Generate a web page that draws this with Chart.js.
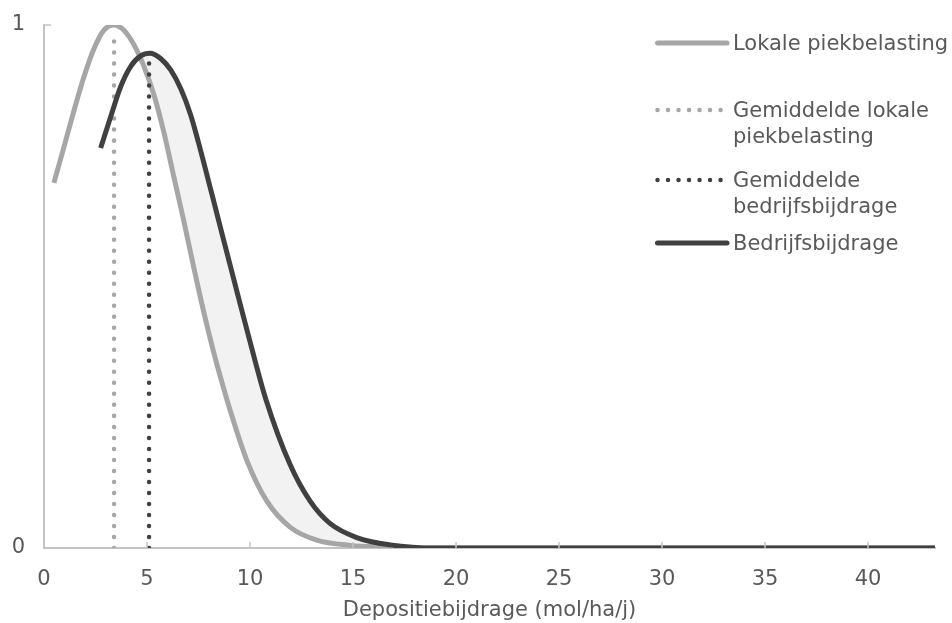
<!DOCTYPE html>
<html>
<head>
<meta charset="utf-8">
<script src="https://cdn.jsdelivr.net/npm/chart.js@4"></script>
<style>
  html, body { margin: 0; padding: 0; background: #fff; }
  #wrap { position: relative; width: 952px; height: 623px; }
  #legend { position: absolute; left: 655px; top: 0; font-family: "DejaVu Sans", Verdana, sans-serif; font-size: 21px; color: #595959; }
  .item { position: absolute; left: 0; white-space: nowrap; }
  .item svg { position: absolute; left: 0; }
  .item span { position: absolute; left: 78px; line-height: 26px; }
</style>
</head>
<body>
<div id="wrap">
  <canvas id="myChart" width="952" height="623"></canvas>
  <div id="legend"></div>
</div>
<script>
// curve points
var xLokaal = [0.48, 0.97, 1.46, 1.94, 2.43, 2.91, 3.4, 3.88, 4.37, 4.85, 5.34, 5.83, 6.3, 6.76, 7.25, 7.75, 8.2, 8.6, 9.03, 9.84, 10.81, 11.94, 13.24, 14.85, 16.5, 19, 43.25];
var yLokaal = [0.698, 0.767, 0.837, 0.901, 0.955, 0.99, 1, 0.99, 0.962, 0.921, 0.866, 0.793, 0.71, 0.63, 0.54, 0.452, 0.38, 0.322, 0.264, 0.168, 0.09, 0.04, 0.015, 0.005, 0.002, 0, 0];

var xBedrijf = [2.75, 3.24, 3.72, 4.21, 4.69, 5.15, 5.66, 6.15, 6.64, 7.12, 7.5, 8.16, 8.79, 9.42, 10.07, 10.78, 11.94, 12.91, 13.88, 15.18, 16.8, 19, 43.25];
var yBedrijf = [0.765, 0.825, 0.882, 0.921, 0.941, 0.946, 0.936, 0.914, 0.878, 0.828, 0.775, 0.675, 0.578, 0.482, 0.384, 0.283, 0.16, 0.09, 0.047, 0.02, 0.006, 0, 0];

// vertical dotted lines (mean values)
var gemiddeldeX = [3.4, 5.1];
var gemiddeldeTop = [0.98, 0.94];

var labels = ["Lokale piekbelasting", "Gemiddelde lokale piekbelasting", "Gemiddelde bedrijfsbijdrage", "Bedrijfsbijdrage"];
var xTicks = [0, 5, 10, 15, 20, 25, 30, 35, 40];
var yTicks = [0, 1];

var licht = "#a6a6a6";
var donker = "#404040";
var asKleur = "#c4c4c4";
var tekst = "#595959";

function pts(xs, ys) {
  return xs.map(function (x, i) { return { x: x, y: ys[i] }; });
}

// small tick marks pointing into the plot
var innerTicks = {
  id: "innerTicks",
  afterDraw: function (chart) {
    var ctx = chart.ctx, xs = chart.scales.x, ys = chart.scales.y;
    var y0 = ys.getPixelForValue(0), x0 = xs.getPixelForValue(0);
    ctx.save();
    ctx.strokeStyle = asKleur;
    ctx.lineWidth = 1.5;
    ctx.beginPath();
    xTicks.forEach(function (v) {
      if (v === 0) return;
      var px = xs.getPixelForValue(v);
      ctx.moveTo(px, y0); ctx.lineTo(px, y0 - 6);
    });
    yTicks.forEach(function (v) {
      if (v === 0) return;
      var py = ys.getPixelForValue(v);
      ctx.moveTo(x0, py); ctx.lineTo(x0 + 7, py);
    });
    ctx.stroke();
    ctx.restore();
  }
};

Chart.defaults.font.family = '"DejaVu Sans", Verdana, sans-serif';
Chart.defaults.font.size = 21;
Chart.defaults.color = tekst;

new Chart("myChart", {
  type: "line",
  data: {
    datasets: [
      {
        label: labels[0],
        data: pts(xLokaal, yLokaal),
        borderColor: licht,
        borderWidth: 5,
        pointRadius: 0,
        fill: false,
        cubicInterpolationMode: "monotone",
        order: 4
      },
      {
        label: labels[1],
        data: [{ x: gemiddeldeX[0], y: 0 }, { x: gemiddeldeX[0], y: gemiddeldeTop[0] }],
        borderColor: licht,
        borderWidth: 4.5,
        borderDash: [0.01, 11],
        borderCapStyle: "round",
        pointRadius: 0,
        fill: false,
        order: 3
      },
      {
        label: labels[2],
        data: [{ x: gemiddeldeX[1], y: 0 }, { x: gemiddeldeX[1], y: gemiddeldeTop[1] }],
        borderColor: donker,
        borderWidth: 4.5,
        borderDash: [0.01, 11],
        borderCapStyle: "round",
        pointRadius: 0,
        fill: false,
        order: 2
      },
      {
        label: labels[3],
        data: pts(xBedrijf, yBedrijf),
        borderColor: donker,
        borderWidth: 5,
        pointRadius: 0,
        fill: { target: 0, above: "#f2f2f2", below: "rgba(0,0,0,0)" },
        cubicInterpolationMode: "monotone",
        order: 1
      }
    ]
  },
  options: {
    responsive: false,
    animation: false,
    layout: { padding: { top: 25, right: 17, left: 0, bottom: 0 } },
    plugins: {
      legend: { display: false },
      tooltip: { enabled: false },
      filler: { drawTime: "beforeDatasetsDraw" }
    },
    scales: {
      x: {
        type: "linear",
        min: 0,
        max: 43.25,
        grid: { drawOnChartArea: false, drawTicks: false },
        border: { color: asKleur, width: 2 },
        ticks: { stepSize: 5, includeBounds: false, padding: 19, color: tekst },
        title: { display: true, text: "Depositiebijdrage (mol/ha/j)", color: tekst, padding: { top: 9, bottom: 0 } },
        afterFit: function (scale) { scale.height = 75; scale.paddingLeft = 0; scale.paddingRight = 0; }
      },
      y: {
        min: 0,
        max: 1,
        grid: { drawOnChartArea: false, drawTicks: false },
        border: { color: asKleur, width: 2 },
        ticks: { stepSize: 1, padding: 19, color: tekst },
        afterFit: function (scale) { scale.width = 44; scale.paddingTop = 0; scale.paddingBottom = 0; }
      }
    }
  },
  plugins: [innerTicks]
});

// legend on the right, over the plot
var legendItems = [
  { text: ["Lokale piekbelasting"], color: licht, dotted: false, y: 43 },
  { text: ["Gemiddelde lokale", "piekbelasting"], color: licht, dotted: true, y: 110 },
  { text: ["Gemiddelde", "bedrijfsbijdrage"], color: donker, dotted: true, y: 180 },
  { text: ["Bedrijfsbijdrage"], color: donker, dotted: false, y: 243 }
];
var legend = document.getElementById("legend");
legendItems.forEach(function (it) {
  var d = document.createElement("div");
  d.className = "item";
  d.style.top = (it.y - 13) + "px";
  var dash = it.dotted ? ' stroke-dasharray="0.01 10.5"' : "";
  var sw = it.dotted ? 4.5 : 5;
  d.innerHTML = '<svg width="76" height="26"><line x1="2.5" y1="13" x2="72" y2="13" stroke="' + it.color +
    '" stroke-width="' + sw + '" stroke-linecap="round"' + dash + '/></svg>' +
    '<span>' + it.text.join("<br>") + '</span>';
  legend.appendChild(d);
});
</script>
</body>
</html>
